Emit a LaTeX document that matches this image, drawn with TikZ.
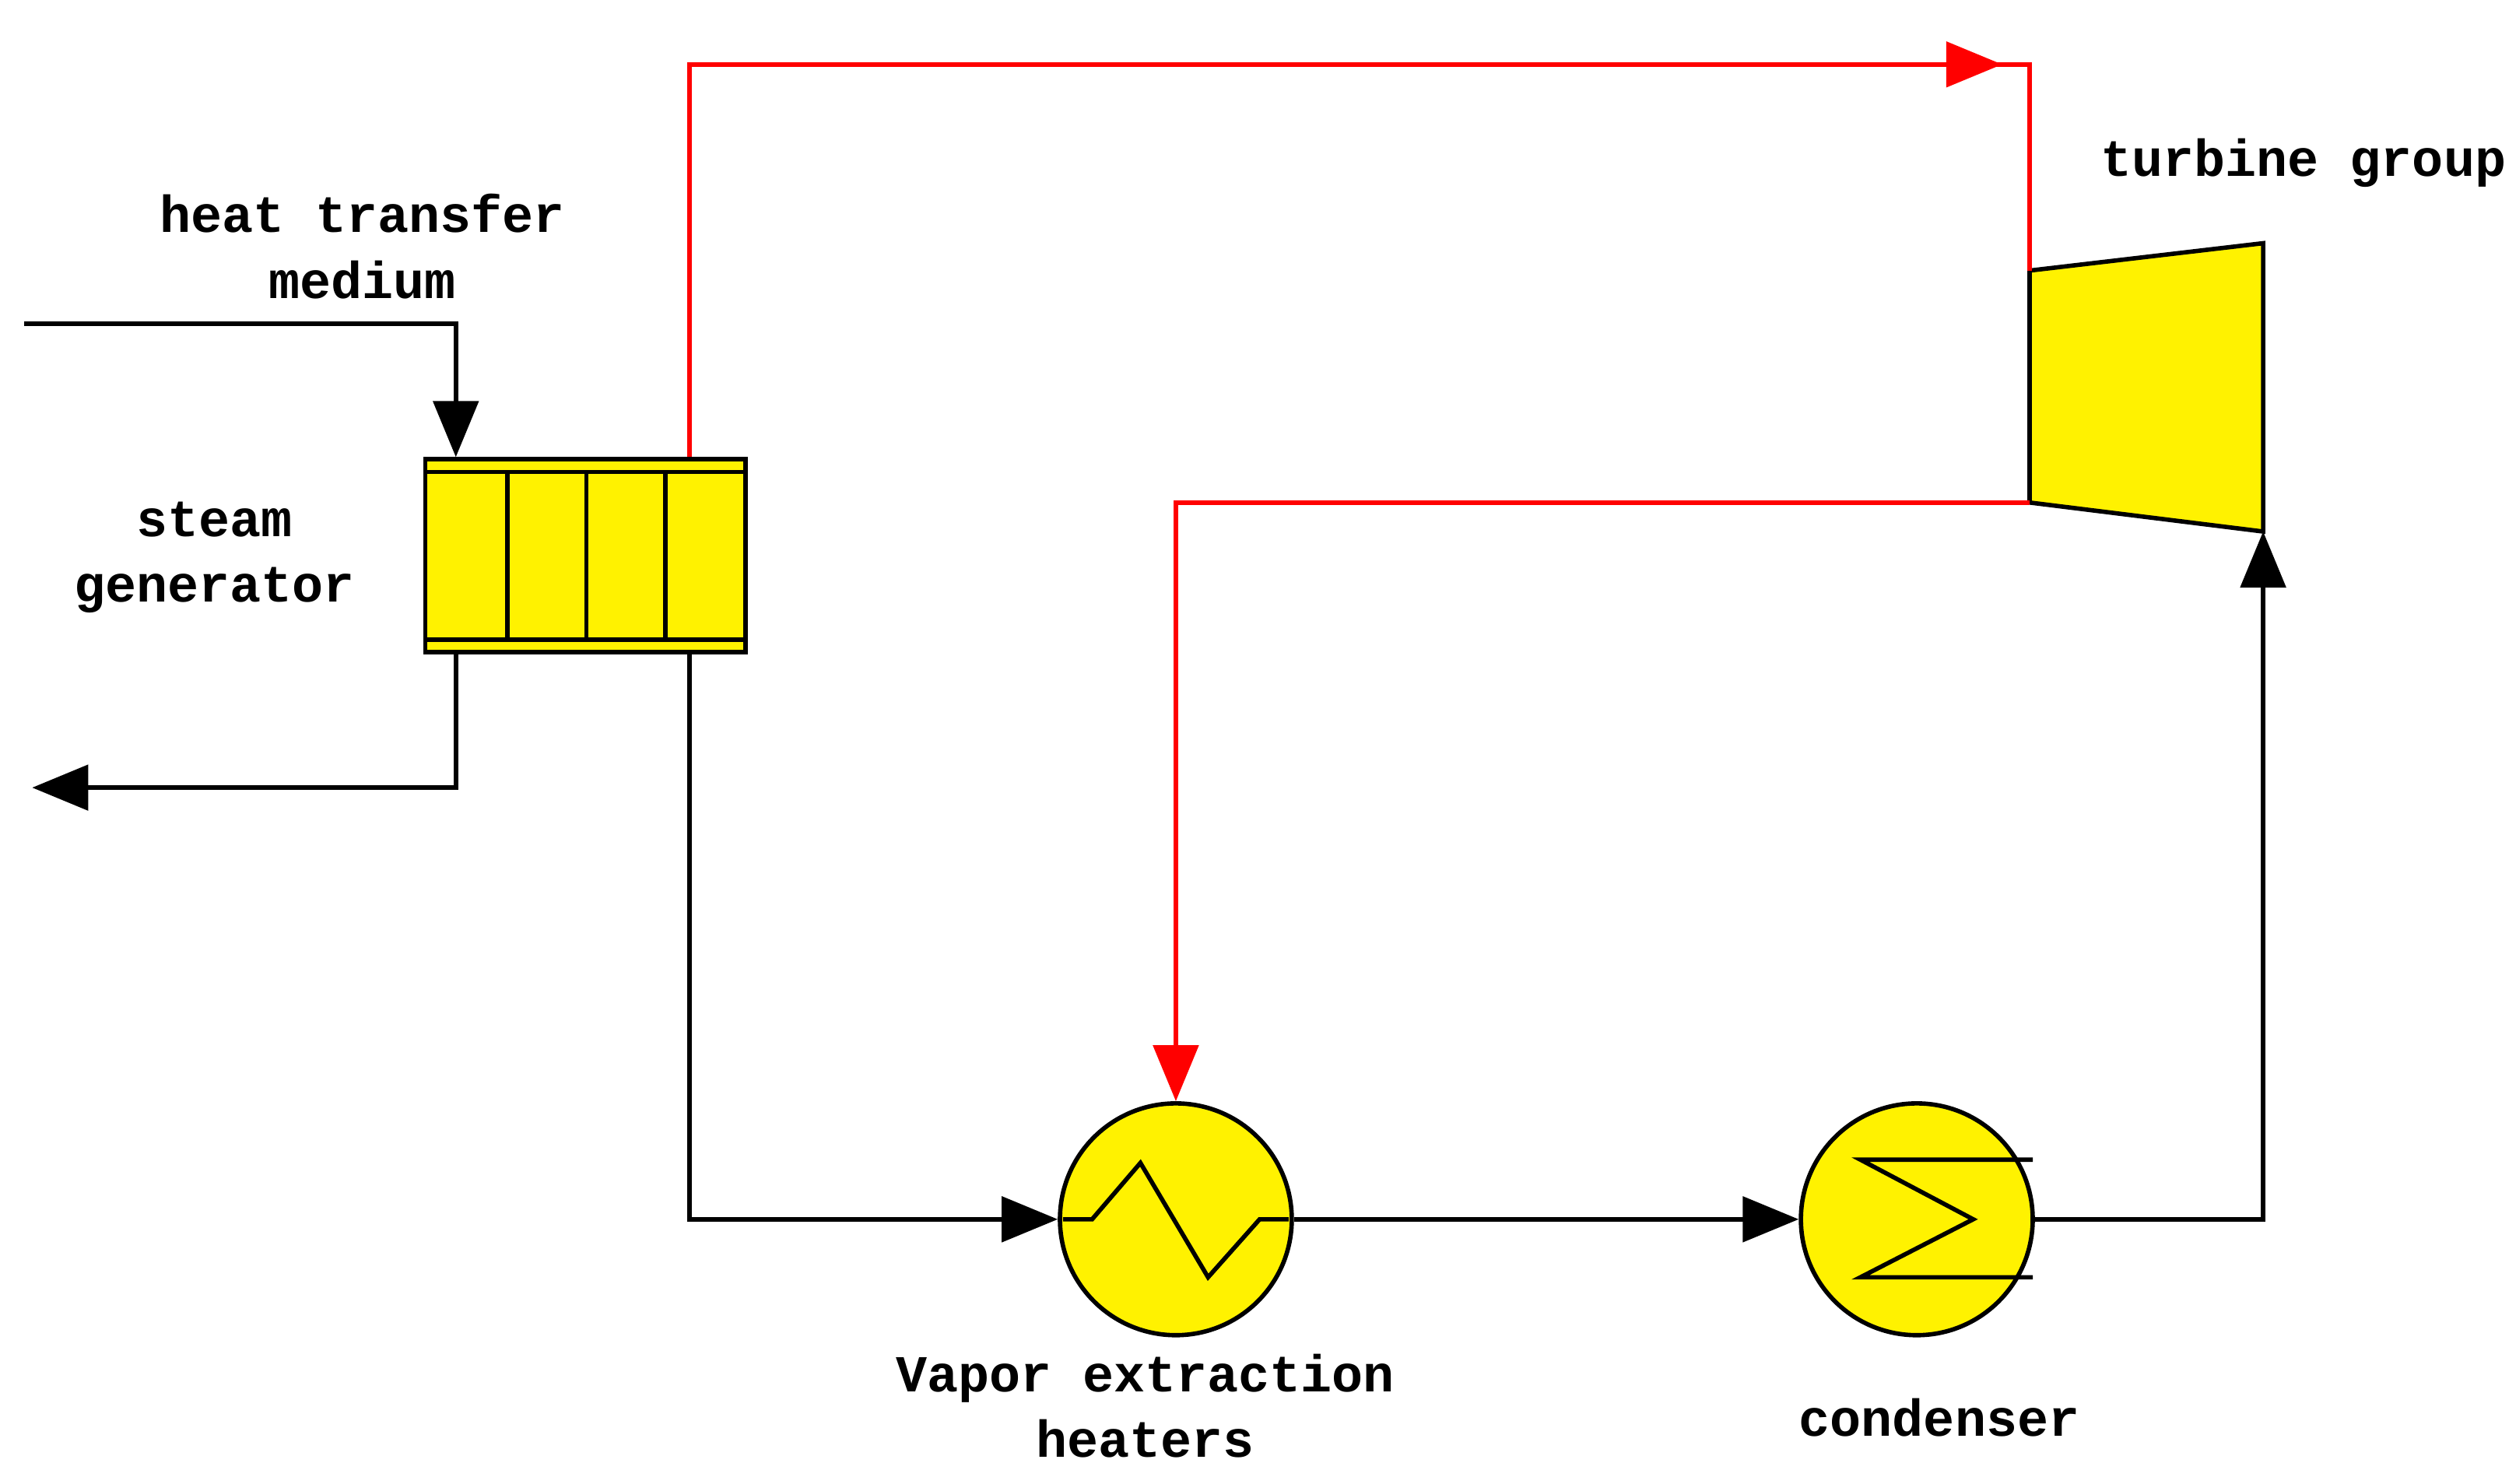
\documentclass[tikz,border=0pt]{standalone}
\usepackage{fontspec}
\setmainfont{Liberation Mono}
\usetikzlibrary{arrows.meta,positioning}
\begin{document}
\begin{tikzpicture}[x=0.0207cm, y=-0.0207cm,
    pipe/.style={line width=1.6pt, black},
    hot/.style={line width=1.6pt, red},
    flow/.style={-{Triangle[length=0.72cm, width=0.58cm]}},
    unit/.style={draw, line width=1.6pt, fill=yellow},
    lbl/.style={font=\fontsize{19}{24}\selectfont\bfseries, align=center}]
        \useasboundingbox (0,0) rectangle (1562,921);

        % steam generator
        \node[unit, minimum width=4.12cm, minimum height=2.48cm, inner sep=0pt] (sg) at (363.5,345) {};
        \draw[line width=1.6pt] (264,293) -- (463,293) (264,397) -- (463,397);
        \foreach \x in {315,364,413} \draw[line width=1.6pt] (\x,293) -- (\x,397);

        % turbine group
        \draw[unit] (1260,168) coordinate (tin) -- (1405,151) -- (1405,330) coordinate (tret) -- (1260,312) coordinate (tout) -- cycle;

        % heater and condenser
        \node[unit, circle, minimum size=2.98cm, inner sep=0pt] (heater) at (730,757) {};
        \draw[line width=1.6pt] (660,757) -- (678,757) -- (708,722) -- (750,793) -- (782,757) -- (800,757);
        \node[unit, circle, minimum size=2.98cm, inner sep=0pt] (cond) at (1190,757) {};
        \draw[line width=1.6pt] (1262,720) -- (1155,720) -- (1225,757) -- (1155,793) -- (1262,793);

        % labels
        \node[lbl] (lhtm) at (225,153) {heat transfer\\medium};
        \node[lbl] (lsg) at (133,346) {steam\\generator};
        \node[lbl] (ltg) at (1430,101) {turbine group};
        \node[lbl] (lveh) at (711,873) {Vapor extraction\\heaters};
        \node[lbl] (lcond) at (1204,880) {condenser};

        % heat transfer medium in and out
        \coordinate (hin) at (15,201);
        \coordinate (hout) at (20,489);
        \draw[pipe, flow] (hin) -| (sg.north -| 283,0);
        \draw[pipe, flow] (sg.south -| 283,0) |- (hout);

        % steam lines
        \coordinate (top) at (428,40);
        \draw[hot] (sg.north -| top) -- (top) -| (tin);
        \draw[hot, flow] (top) -- (1243,40);
        \draw[hot, flow] (tout) -| (heater.north);

        % water lines
        \draw[pipe, flow] (sg.south -| top) |- (heater.west);
        \draw[pipe, flow] (heater.east) -- (cond.west);
        \draw[pipe, flow] (cond.east) -| (tret);
    \end{tikzpicture}
\end{document}
